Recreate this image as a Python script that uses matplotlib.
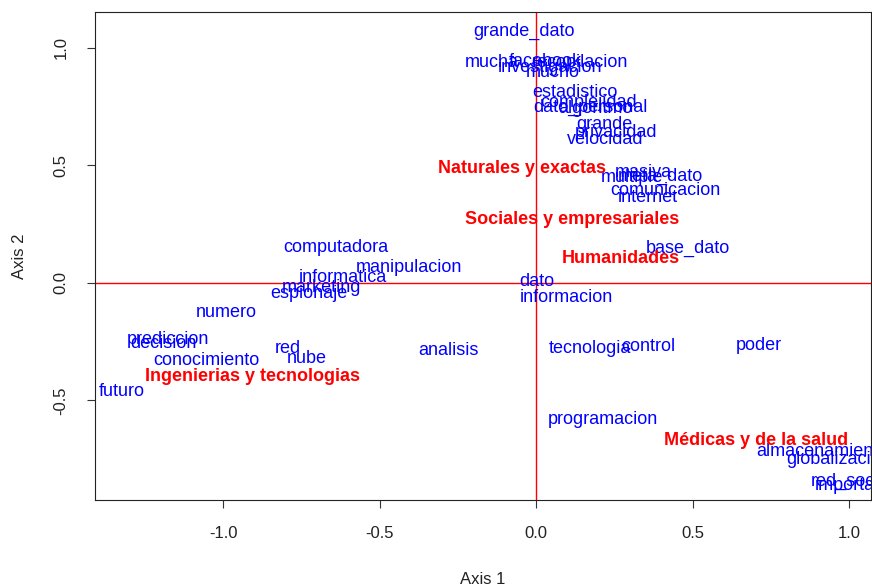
import matplotlib
matplotlib.use("Agg")
import matplotlib.pyplot as plt
import matplotlib.transforms as mtransforms

plt.rcParams['font.family'] = ['Liberation Sans', 'DejaVu Sans']

# column points (areas), red
areas = ['Naturales y exactas', 'Sociales y empresariales', 'Humanidades',
         'Ingenierias y tecnologias', 'Médicas y de la salud']
areas_x = [-0.045, 0.115, 0.272, -0.907, 0.703]
areas_y = [0.494, 0.277, 0.111, -0.391, -0.664]

# row points (words), blue
words = ['grande_dato', 'mucha', 'facebook', 'recopilacion', 'investigacion', 'mucho',
         'estadistico', 'complejidad', 'dato_personal', 'algoritmo', 'grande',
         'privacidad', 'velocidad', 'masiva', 'multiple', 'meta_dato', 'comunicacion',
         'internet', 'base_dato', 'computadora', 'manipulacion', 'informatica',
         'marketing', 'espionaje', 'dato', 'informacion', 'numero', 'prediccion',
         'decision', 'conocimiento', 'red', 'nube', 'analisis', 'futuro',
         'tecnologia', 'control', 'poder', 'programacion', 'almacenamiento',
         'globalizacion', 'red_social', 'importancia']
words_x = [-0.038, -0.141, 0.029, 0.141, 0.045, 0.054,
           0.125, 0.166, 0.173, 0.188, 0.217,
           0.256, 0.220, 0.342, 0.307, 0.396, 0.412,
           0.358, 0.486, -0.639, -0.406, -0.617,
           -0.687, -0.725, 0.003, 0.096, -0.990, -1.176,
           -1.192, -1.054, -0.792, -0.732, -0.281, -1.323,
           0.173, 0.358, 0.712, 0.214, 0.914,
           0.965, 1.010, 1.038]
words_y = [1.077, 0.945, 0.949, 0.945, 0.923, 0.902,
           0.817, 0.774, 0.753, 0.749, 0.681,
           0.647, 0.617, 0.477, 0.455, 0.460, 0.400,
           0.370, 0.153, 0.157, 0.072, 0.030,
           -0.013, -0.038, 0.013, -0.055, -0.119, -0.234,
           -0.251, -0.323, -0.272, -0.315, -0.281, -0.455,
           -0.272, -0.264, -0.260, -0.574, -0.711,
           -0.745, -0.838, -0.855]

fig = plt.figure(figsize=(8.72, 5.88), dpi=100)
ax = fig.add_axes([0.109, 0.150, 0.89, 0.830])
ax.set_xlim(-1.409, 1.07)
ax.set_ylim(-0.923, 1.153)

ax.axhline(0, color='red', lw=1)
ax.axvline(0, color='red', lw=1)

# nudge labels down ~2px to match R's vertical centring
shift = ax.transData + mtransforms.ScaledTranslation(0, -0.02, fig.dpi_scale_trans)

for w, x, y in zip(words, words_x, words_y):
    ax.text(x, y, w, color='blue', fontsize=13, ha='center', va='center',
            clip_on=True, transform=shift)
for a, x, y in zip(areas, areas_x, areas_y):
    ax.text(x, y, a, color='red', fontsize=13, fontweight='bold', ha='center',
            va='center', clip_on=True, transform=shift)

ax.set_xticks([-1.0, -0.5, 0.0, 0.5, 1.0])
ax.set_yticks([-0.5, 0.0, 0.5, 1.0])
ax.set_xticklabels(['-1.0', '-0.5', '0.0', '0.5', '1.0'])
ax.set_yticklabels(['-0.5', '0.0', '0.5', '1.0'], rotation=90, va='center')
ax.tick_params(labelsize=12, length=6, pad=13, color='#333333', labelcolor='#222222')
ax.set_xlabel('Axis 1', fontsize=12, labelpad=22, color='#222222')
ax.set_ylabel('Axis 2', fontsize=12, labelpad=19, color='#222222')
for s in ax.spines.values():
    s.set_color('#222222')

fig.savefig('out.png', dpi=100)
